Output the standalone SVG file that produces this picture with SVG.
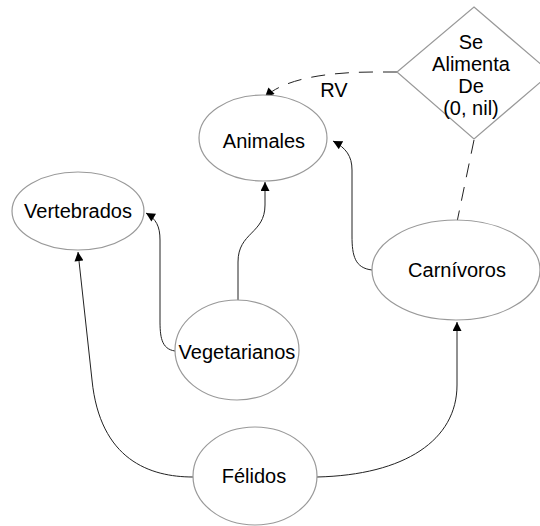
<svg xmlns="http://www.w3.org/2000/svg" width="540" height="526" viewBox="0 0 540 526">
<defs>
<style>
.node{fill:#fff;stroke:#999;stroke-width:1.2}
.lbl{font-family:"Liberation Sans",Arial,sans-serif;font-size:20px;fill:#000;text-anchor:middle}
.edge{fill:none;stroke:#222;stroke-width:1}
.dash{stroke-dasharray:14 10}
</style>
<marker id="arr" viewBox="0 0 10 10" refX="10" refY="5" markerWidth="10" markerHeight="9" markerUnits="userSpaceOnUse" orient="auto">
<path d="M0,0 L10,5 L0,10 z" fill="#000"/>
</marker>
</defs>
<rect width="540" height="526" fill="#fff"/>
<g id="connectors">
<path class="edge" d="M238,300 L238,262 C238,232 265,234 265,205 L265,182" marker-end="url(#arr)"/>
<path class="edge" d="M175,351 C161,349 160,336 160,320 L160,240 C160,226 156,219 146,213" marker-end="url(#arr)"/>
<path class="edge" d="M193,477 C150,477 100,460 92,380 L78,252" marker-end="url(#arr)"/>
<path class="edge" d="M317,477 C405,475 457,440 457,385 L457,322" marker-end="url(#arr)"/>
<path class="edge" d="M372,270 C355,268 352,256 352,236 L352,170 C352,156 346,148 333,141" marker-end="url(#arr)"/>
<path class="edge dash" d="M397,72 L375,72 C330,72 285,78 265,97" marker-end="url(#arr)"/>
<path class="edge dash" d="M474,140 L457,222"/>
<text class="lbl" x="334" y="97">RV</text>
</g>
<g id="se-alimenta-de">
<polygon class="node" points="474,7 551,73 474,139 397,72"/>
<text class="lbl" x="471" y="49">Se</text>
<text class="lbl" x="471" y="71">Alimenta</text>
<text class="lbl" x="471" y="93">De</text>
<text class="lbl" x="471" y="115">(0, nil)</text>
</g>
<g id="animales">
<ellipse class="node" cx="263" cy="138" rx="64" ry="43"/>
<text class="lbl" x="264" y="148">Animales</text>
</g>
<g id="vertebrados">
<ellipse class="node" cx="78" cy="211" rx="66" ry="39"/>
<text class="lbl" x="78" y="218">Vertebrados</text>
</g>
<g id="vegetarianos">
<ellipse class="node" cx="237" cy="350" rx="62" ry="50"/>
<text class="lbl" x="237" y="359">Vegetarianos</text>
</g>
<g id="carnivoros">
<ellipse class="node" cx="456" cy="270" rx="84" ry="50"/>
<text class="lbl" x="457" y="277">Carnívoros</text>
</g>
<g id="felidos">
<ellipse class="node" cx="255" cy="476" rx="62" ry="49"/>
<text class="lbl" x="254" y="483">Félidos</text>
</g>
</svg>
